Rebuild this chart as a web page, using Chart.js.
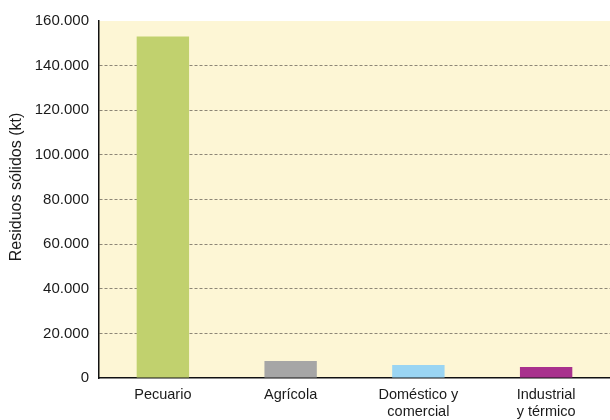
<!DOCTYPE html>
<html>
<head>
<meta charset="utf-8">
<script src="https://cdn.jsdelivr.net/npm/chart.js@4.4.1/dist/chart.umd.min.js"></script>
<style>
  html, body { margin: 0; padding: 0; background: #fff; }
  #wrap { width: 610px; height: 420px; }
</style>
</head>
<body>
<div id="wrap"><canvas id="residuosChart" width="610" height="420"></canvas></div>
<script>
const categorias = [["Pecuario"], ["Agrícola"], ["Doméstico y", "comercial"], ["Industrial", "y térmico"]];
const residuos = [153000, 7600, 5800, 4900];
const colores = ["#c1d16e", "#a6a6a6", "#9ad5f3", "#a8318d"];
const yTicks = [0, 20000, 40000, 60000, 80000, 100000, 120000, 140000, 160000];
const yTitulo = 'Residuos sólidos (kt)';

const plotBg = {
    id: 'plotBg',
    beforeDraw(chart) {
        const { ctx, chartArea } = chart;
        ctx.save();
        ctx.fillStyle = '#fdf6d5';
        ctx.fillRect(chartArea.left, chartArea.top, chartArea.right - chartArea.left, chartArea.bottom - chartArea.top);
        ctx.restore();
    },
    // y axis title sits a bit above the middle of the plot in the original
    afterDraw(chart) {
        const { ctx, chartArea } = chart;
        ctx.save();
        ctx.translate(16.5, chartArea.top + (chartArea.bottom - chartArea.top) * 0.465);
        ctx.rotate(-Math.PI / 2);
        ctx.font = '16px "Liberation Sans", Arial, sans-serif';
        ctx.fillStyle = '#1a1a1a';
        ctx.textAlign = 'center';
        ctx.textBaseline = 'middle';
        ctx.fillText(yTitulo, 0, 0);
        ctx.restore();
    }
};

const fmt = v => v === 0 ? '0' : v.toLocaleString('es-ES').replace(/\s/g, '.');

Chart.defaults.font.family = '"Liberation Sans", Arial, sans-serif';
Chart.defaults.font.size = 15;
Chart.defaults.color = '#1a1a1a';

new Chart(document.getElementById('residuosChart'), {
    type: 'bar',
    data: {
        labels: categorias,
        datasets: [{
            data: residuos,
            backgroundColor: colores,
            barPercentage: 0.41,
            categoryPercentage: 1
        }]
    },
    options: {
        responsive: false,
        animation: false,
        layout: { padding: { top: 21, right: 0, left: 0, bottom: 0 } },
        plugins: { legend: { display: false }, tooltip: { enabled: false } },
        scales: {
            x: {
                grid: { display: false, drawTicks: false },
                border: { color: '#111', width: 1.5 },
                ticks: { padding: 9, font: { size: 14.5, lineHeight: 1.15 } },
                afterFit(scale) { scale.height = 42; }
            },
            y: {
                min: 0,
                max: 160000,
                afterBuildTicks(scale) { scale.ticks = yTicks.map(v => ({ value: v })); },
                grid: {
                    drawTicks: false,
                    color: ctx => (ctx.tick.value === 0 || ctx.tick.value === 160000) ? 'rgba(0,0,0,0)' : '#8d8676',
                    lineWidth: 1
                },
                border: { color: '#111', width: 1.5, dash: [3, 2] },
                ticks: { padding: 10, callback: v => fmt(v) },
                afterFit(scale) { scale.width = 99; }
            }
        }
    },
    plugins: [plotBg]
});
</script>
</body>
</html>
